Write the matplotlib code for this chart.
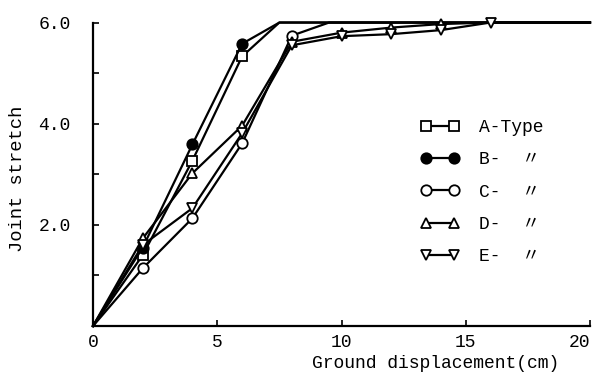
import matplotlib
matplotlib.use('Agg')
import matplotlib.pyplot as plt
from matplotlib.ticker import MultipleLocator, FixedLocator

plt.rcParams['font.family'] = ['Liberation Mono', 'Noto Sans CJK JP', 'DejaVu Sans']

# values (x: ground displacement cm, y: joint stretch)
a_x = [0, 2, 4, 6, 7.5, 20]
a_y = [0, 1.40, 3.27, 5.33, 6.0, 6.0]
b_x = [0, 2, 4, 6, 7.5, 20]
b_y = [0, 1.55, 3.59, 5.58, 6.0, 6.0]
c_x = [0, 2, 4, 6, 8, 9.5, 20]
c_y = [0, 1.14, 2.13, 3.61, 5.74, 6.0, 6.0]
d_x = [0, 2, 4, 6, 8, 10, 12, 14, 16, 20]
d_y = [0, 1.73, 3.02, 3.96, 5.62, 5.80, 5.90, 5.97, 6.0, 6.0]
e_x = [0, 2, 4, 6, 8, 10, 12, 14, 16, 20]
e_y = [0, 1.60, 2.33, 3.81, 5.55, 5.73, 5.77, 5.85, 6.0, 6.0]

labels = ['A-Type', 'B-  〃', 'C-  〃', 'D-  〃', 'E-  〃']
x_ticks = [0, 5, 10, 15, 20]
y_ticks = [2.0, 4.0, 6.0]

fig = plt.figure(figsize=(5.93, 3.82), dpi=100)
ax = fig.add_axes([93/593, 1 - 326/382, 497/593, 306/382])

LW = 1.6
MS = 7.5
common = dict(color='black', lw=LW, ms=MS, mew=1.3, clip_on=False)

ax.plot(a_x, a_y, marker='s', mfc='white', mec='black', markevery=[1, 2, 3], label=labels[0], **common)
ax.plot(b_x, b_y, marker='o', mfc='black', mec='black', markevery=[1, 2, 3], label=labels[1], **common)
ax.plot(c_x, c_y, marker='o', mfc='white', mec='black', markevery=[1, 2, 3, 4], label=labels[2], **common)
ax.plot(d_x, d_y, marker='^', mfc='white', mec='black', markevery=list(range(1, 8)), label=labels[3], **common)
ax.plot(e_x, e_y, marker='v', mfc='white', mec='black', markevery=list(range(1, 9)), label=labels[4], **common)

ax.set_xlim(0, 20)
ax.set_ylim(0, 6.05)

for s in ['top', 'right']:
    ax.spines[s].set_visible(False)
for s in ['left', 'bottom']:
    ax.spines[s].set_linewidth(1.6)
ax.spines['left'].set_bounds(0, 6.0)

ax.xaxis.set_major_locator(FixedLocator(x_ticks))
ax.set_xticklabels([str(t) for t in x_ticks])
ax.yaxis.set_major_locator(FixedLocator(y_ticks))
ax.set_yticklabels(['%.1f' % t for t in y_ticks])
ax.yaxis.set_minor_locator(MultipleLocator(1.0))
ax.tick_params(axis='x', direction='in', length=4, width=1.2, labelsize=13, pad=6)
ax.tick_params(axis='y', direction='in', length=4, width=1.2, labelsize=13, pad=16)
ax.tick_params(which='minor', direction='in', length=4, width=1.2)
# last x label sits left of its tick, as in the scan
ax.get_xticklabels()[-1].set_horizontalalignment('right')

ax.set_xlabel('Ground displacement(cm)', fontsize=13)
ax.xaxis.set_label_coords(0.69, -0.095)
ax.set_ylabel('Joint stretch', fontsize=13.5)
ax.yaxis.set_label_coords(-0.135, 0.48)

leg = ax.legend(loc='upper left', bbox_to_anchor=(412/593, 1 - 110/382), bbox_transform=fig.transFigure,
                frameon=False, numpoints=2, handlelength=2.1, handletextpad=1.1,
                labelspacing=0.85, borderpad=0, fontsize=13)
for h in leg.legend_handles:
    h.set_markevery(None)

fig.savefig('out.png', dpi=100)
